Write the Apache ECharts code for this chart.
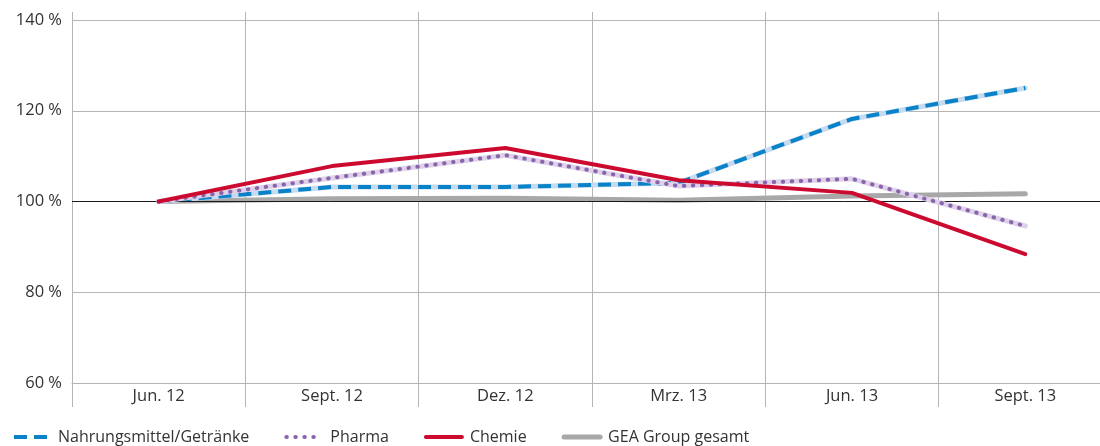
<!DOCTYPE html>
<html>
<head>
<meta charset="utf-8">
<script src="https://cdn.jsdelivr.net/npm/echarts@6/dist/echarts.min.js"></script>
<style>
  html, body { margin: 0; padding: 0; background: #fff; }
  #chart { width: 1100px; height: 446px; }
</style>
</head>
<body>
<div id="chart"></div>
<script>
// Quarters shown on the category axis
const categories = ['Jun. 12', 'Sept. 12', 'Dez. 12', 'Mrz. 13', 'Jun. 13', 'Sept. 13'];

// Indexed development (Jun. 12 = 100 %)
const nahrungsmittel = [100, 103.2, 103.2, 104.1, 118.2, 125.0];
const pharma         = [100, 105.2, 110.2, 103.4, 105.0, 94.6];
const chemie         = [100, 107.8, 111.8, 104.7, 101.9, 88.4];
const geaGesamt      = [100, 100.6, 100.7, 100.3, 101.2, 101.7];

const seriesNames = ['Nahrungsmittel/Getränke', 'Pharma', 'Chemie', 'GEA Group gesamt'];

const yMin = 60, yMax = 140, yStep = 20;
const baseline = 100;

const gridColor = '#b5b5b5';
const textColor = '#333333';
const font = 'Open Sans';

const blue = '#0a82c8', blueLight = '#c6dbf0';
const purple = '#8a64aa', purpleLight = '#ddd2e9';
const red = '#cc0a2f';
const grey = '#a8a8a8';

const chart = echarts.init(document.getElementById('chart'), null, { renderer: 'canvas' });

const hiddenSymbol = { opacity: 0 };

chart.setOption({
  animation: false,
  backgroundColor: '#ffffff',
  grid: { left: 72, width: 1040, top: 20, bottom: 63, containLabel: false, outerBoundsMode: 'none' },
  legend: {
    data: [
      { name: seriesNames[0], lineStyle: { color: blue, width: 4, type: [13, 7] } },
      { name: seriesNames[1], lineStyle: { color: purple, width: 4, type: [0.5, 8.5], cap: 'round' } },
      { name: seriesNames[2], lineStyle: { color: red, width: 4 } },
      { name: seriesNames[3], lineStyle: { color: grey, width: 5 } }
    ],
    left: 12,
    top: 429,
    padding: 0,
    itemWidth: 36,
    itemHeight: 12,
    itemGap: 35,
    itemStyle: { opacity: 0 },
    textStyle: { color: textColor, fontFamily: font, fontSize: 16, padding: [0, 0, 0, 3] }
  },
  xAxis: [
    {
      type: 'category',
      data: categories,
      boundaryGap: true,
      axisLine: { show: true, lineStyle: { color: gridColor, width: 1 } },
      axisTick: { show: true, length: 24, lineStyle: { color: gridColor, width: 1 } },
      axisLabel: { color: textColor, fontFamily: font, fontSize: 16.5, margin: 5 },
      splitLine: { show: true, lineStyle: { color: gridColor, width: 1 } }
    },
    {
      type: 'category',
      data: categories,
      position: 'top',
      boundaryGap: true,
      axisLine: { show: false },
      axisTick: { show: true, length: 8, lineStyle: { color: gridColor, width: 1 } },
      axisLabel: { show: false },
      splitLine: { show: false }
    }
  ],
  yAxis: {
    type: 'value',
    min: yMin,
    max: yMax,
    interval: yStep,
    axisLine: { show: false },
    axisTick: { show: false },
    axisLabel: {
      color: textColor, fontFamily: font, fontSize: 16.5, margin: 10,
      formatter: v => v + ' %'
    },
    splitLine: { show: true, lineStyle: { color: gridColor, width: 1 } }
  },
  series: [
    {
      name: seriesNames[3], type: 'line', data: geaGesamt, z: 2,
      symbol: 'none', color: grey, itemStyle: hiddenSymbol,
      lineStyle: { color: grey, width: 5, cap: 'round' },
      markLine: {
        silent: true, symbol: 'none', label: { show: false },
        lineStyle: { color: '#1a1a1a', width: 1, type: 'solid' },
        data: [{ yAxis: baseline }]
      }
    },
    {
      name: seriesNames[0], type: 'line', data: nahrungsmittel, z: 4,
      symbol: 'none', color: blue, itemStyle: hiddenSymbol,
      lineStyle: { color: blue, width: 4, type: [13, 7], cap: 'butt' }
    },
    {
      name: seriesNames[0], type: 'line', data: nahrungsmittel, z: 3,
      symbol: 'none', color: blueLight, itemStyle: hiddenSymbol,
      lineStyle: { color: blueLight, width: 5, cap: 'round' }
    },
    {
      name: seriesNames[1], type: 'line', data: pharma, z: 6,
      symbol: 'none', color: purple, itemStyle: hiddenSymbol,
      lineStyle: { color: purple, width: 4, type: [0.5, 8.5], cap: 'round' }
    },
    {
      name: seriesNames[1], type: 'line', data: pharma, z: 5,
      symbol: 'none', color: purpleLight, itemStyle: hiddenSymbol,
      lineStyle: { color: purpleLight, width: 5, cap: 'round' }
    },
    {
      name: seriesNames[2], type: 'line', data: chemie, z: 7,
      symbol: 'none', color: red, itemStyle: hiddenSymbol,
      lineStyle: { color: red, width: 4, cap: 'round' }
    }
  ]
});
</script>
</body>
</html>
